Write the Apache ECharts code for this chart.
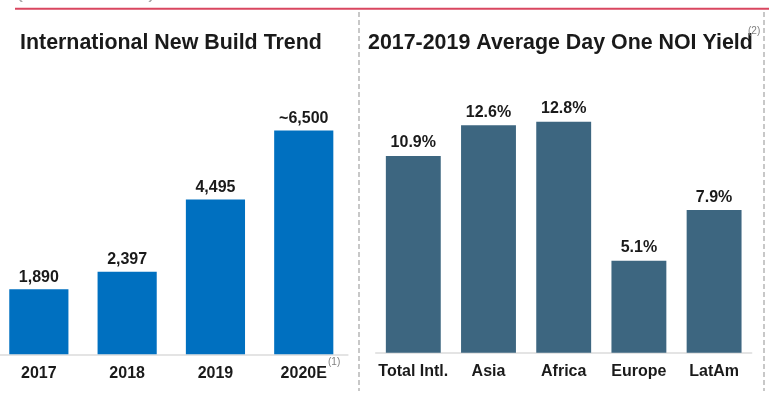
<!DOCTYPE html>
<html>
<head>
<meta charset="utf-8">
<script src="https://cdn.jsdelivr.net/npm/echarts@6/dist/echarts.min.js"></script>
<style>
  html, body { margin: 0; padding: 0; background: #fff; }
  #chart { width: 769px; height: 406px; }
</style>
</head>
<body>
<div id="chart"></div>
<script>
// left panel: international new builds
const buildYears = ["2017", "2018", "2019", "2020E"];
const buildValues = [1890, 2397, 4495, 6500];
const buildLabels = ["1,890", "2,397", "4,495", "~6,500"];

// right panel: average day one NOI yield (%)
const yieldRegions = ["Total Intl.", "Asia", "Africa", "Europe", "LatAm"];
const yieldValues = [10.9, 12.6, 12.8, 5.1, 7.9];
const yieldLabels = ["10.9%", "12.6%", "12.8%", "5.1%", "7.9%"];

const FONT = "'Liberation Sans', Arial, sans-serif";
const TEXT_DARK = "#1a1a1a";

let chart = echarts.init(document.getElementById("chart"), null, { renderer: "canvas" });

//shared category axis look
function catAxis(gridIndex, data, margin) {
    return {
        type: "category",
        gridIndex: gridIndex,
        data: data,
        axisTick: { show: false },
        axisLine: { lineStyle: { color: "#dcdcdc", width: 1.5 } },
        axisLabel: {
            interval: 0,
            color: TEXT_DARK,
            fontFamily: FONT,
            fontWeight: "bold",
            fontSize: 16,
            margin: margin
        }
    };
}

function valAxis(gridIndex, max) {
    return {
        type: "value",
        gridIndex: gridIndex,
        min: 0,
        max: max,
        show: false,
        splitLine: { show: false }
    };
}

let option = {
    animation: false,
    grid: [
        { left: -5.3, width: 353.2, top: 78.9, bottom: 51.7, containLabel: false, outerBoundsMode: "none" },
        { left: 375.7, width: 376, top: 100, bottom: 53.3, containLabel: false, outerBoundsMode: "none" }
    ],
    xAxis: [
        catAxis(0, buildYears, 11),
        catAxis(1, yieldRegions, 10.5)
    ],
    yAxis: [
        valAxis(0, 8000),
        valAxis(1, 14)
    ],
    series: [
        {
            type: "bar",
            xAxisIndex: 0,
            yAxisIndex: 0,
            data: buildValues,
            barCategoryGap: "33%",
            itemStyle: { color: "#0070c0" },
            label: {
                show: true,
                position: "top",
                distance: 4,
                color: TEXT_DARK,
                fontFamily: FONT,
                fontWeight: "bold",
                fontSize: 16,
                formatter: (p) => buildLabels[p.dataIndex]
            }
        },
        {
            type: "bar",
            xAxisIndex: 1,
            yAxisIndex: 1,
            data: yieldValues,
            barCategoryGap: "27%",
            itemStyle: { color: "#3d6680" },
            label: {
                show: true,
                position: "top",
                distance: 5,
                color: TEXT_DARK,
                fontFamily: FONT,
                fontWeight: "bold",
                fontSize: 16,
                formatter: (p) => yieldLabels[p.dataIndex]
            }
        }
    ],
    graphic: [
        //clipped header text above the red rule
        {
            type: "text",
            left: 15,
            top: -22,
            style: { text: "(# in millions)", font: "24px " + FONT, fill: "#a8a8a8" }
        },
        {
            type: "line",
            shape: { x1: 15, y1: 8.7, x2: 769, y2: 8.7 },
            style: { stroke: "#d9465f", lineWidth: 2 }
        },
        //dashed panel separators
        {
            type: "line",
            shape: { x1: 359, y1: 12, x2: 359, y2: 391 },
            style: { stroke: "#c8c8c8", lineWidth: 2, lineDash: [5, 3] }
        },
        {
            type: "line",
            shape: { x1: 764, y1: 12, x2: 764, y2: 391 },
            style: { stroke: "#c8c8c8", lineWidth: 2, lineDash: [5, 3] }
        },
        //panel titles
        {
            type: "text",
            x: 20,
            y: 43,
            style: {
                text: "International New Build Trend",
                font: "bold 21.4px " + FONT,
                fill: TEXT_DARK,
                textVerticalAlign: "middle"
            }
        },
        {
            type: "text",
            x: 368,
            y: 43,
            style: {
                text: "2017-2019 Average Day One NOI Yield",
                font: "bold 21.4px " + FONT,
                fill: TEXT_DARK,
                textVerticalAlign: "middle"
            }
        },
        //footnote markers
        {
            type: "text",
            x: 748,
            y: 31,
            style: { text: "(2)", font: "10px " + FONT, fill: "#808080", textVerticalAlign: "middle" }
        },
        {
            type: "text",
            x: 328,
            y: 362,
            style: { text: "(1)", font: "10px " + FONT, fill: "#808080", textVerticalAlign: "middle" }
        }
    ]
};

chart.setOption(option);
</script>
</body>
</html>
